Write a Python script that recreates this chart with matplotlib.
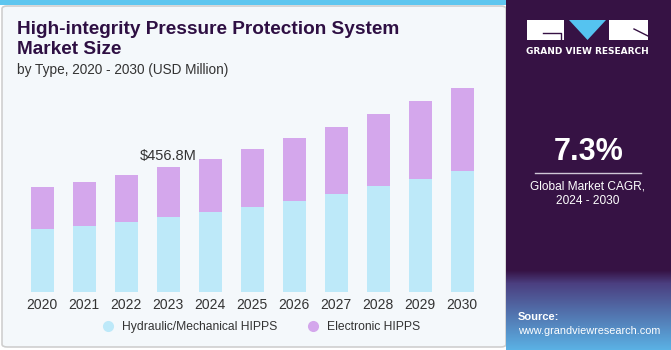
import numpy as np
import matplotlib
matplotlib.use("Agg")
import matplotlib.pyplot as plt
from matplotlib.patches import Rectangle, Polygon, FancyBboxPatch
from matplotlib.lines import Line2D

years = ["2020", "2021", "2022", "2023", "2024", "2025", "2026", "2027", "2028", "2029", "2030"]
hydraulic = [229, 241, 256, 274, 291, 311, 334, 358, 386, 413, 442]
electronic = [154, 162, 173, 182.8, 196, 212, 228, 246, 266, 284, 302]
series_names = ["Hydraulic/Mechanical HIPPS", "Electronic HIPPS"]
callout = "$456.8M"
callout_idx = 3

W, H = 671, 350
c_hyd = "#bde9f9"
c_ele = "#d4a7ec"
c_dark = "#361244"
c_title = "#2e0f43"

fig = plt.figure(figsize=(W / 100, H / 100), dpi=100)
fig.patch.set_facecolor("white")

def fx(px):
    return px / W

def fy(py):
    return 1 - py / H

# light left panel
bg = FancyBboxPatch((fx(2), fy(347)), fx(504), (345 - 4) / H, boxstyle="round,pad=0,rounding_size=0.008",
                    transform=fig.transFigure, facecolor="#f4f8fb", edgecolor="#cfcfcf", lw=1.2, zorder=-2)
fig.patches.append(bg)
fig.patches.append(Rectangle((0, fy(5)), fx(506), 5 / H, transform=fig.transFigure,
                             facecolor="#5ec6ef", edgecolor="none", zorder=-1))

# dark right panel with gradient bottom
pax = fig.add_axes([fx(506), 0, fx(W - 506), 1])
pax.set_zorder(-1)
pax.set_xlim(0, 1)
pax.set_ylim(H, 0)
pax.axis("off")
grad = np.zeros((H, 1, 3))
top = np.array(matplotlib.colors.to_rgb(c_dark))
mid = np.array(matplotlib.colors.to_rgb("#4b3f80"))
bot = np.array(matplotlib.colors.to_rgb("#5bb3e6"))
for r in range(H):
    if r < 270:
        grad[r, 0] = top
    elif r < 283:
        t = (r - 270) / 13
        grad[r, 0] = top * (1 - t) + mid * t
    else:
        t = (r - 283) / (H - 283)
        grad[r, 0] = mid * (1 - t) + bot * t
pax.imshow(grad, aspect="auto", extent=[0, 1, H, 0])

# logo
def frect(x0, y0, x1, y1, col):
    fig.patches.append(Rectangle((fx(x0), fy(y1)), fx(x1 - x0), (y1 - y0) / H,
                                 transform=fig.transFigure, facecolor=col, edgecolor="none", zorder=5))

frect(527, 20, 564, 40, "white")
fig.lines.append(Line2D([fx(543), fx(561), fx(561)], [fy(32.5), fy(32.5), fy(40)],
                        transform=fig.transFigure, color=c_dark, lw=1, zorder=6))
fig.patches.append(Polygon([[fx(569), fy(20)], [fx(606), fy(20)], [fx(587.5), fy(40)]], closed=True,
                           transform=fig.transFigure, facecolor="#55c3f0", edgecolor="none", zorder=5))
frect(609, 20, 648, 40, "white")
fig.lines.append(Line2D([fx(634), fx(648)], [fy(29), fy(36)],
                        transform=fig.transFigure, color=c_dark, lw=1, zorder=6))
fig.text(fx(587.5), fy(51), "GRAND VIEW RESEARCH", ha="center", va="center", color="white",
         fontsize=6.5, fontweight="bold", family="DejaVu Sans")

fig.text(fx(589), fy(152), "7.3%", ha="center", va="center", color="white",
         fontsize=22, fontweight="bold", family="Liberation Sans")
fig.lines.append(Line2D([fx(535), fx(641)], [fy(173), fy(173)], transform=fig.transFigure,
                        color="#cfc6d6", lw=1))
fig.text(fx(588), fy(186), "Global Market CAGR,", ha="center", va="center", color="white",
         fontsize=8.6, family="Liberation Sans")
fig.text(fx(588), fy(201), "2024 - 2030", ha="center", va="center", color="white",
         fontsize=8.6, family="Liberation Sans")
fig.text(fx(518), fy(317), "Source:", ha="left", va="center", color="white",
         fontsize=8, fontweight="bold", family="Liberation Sans")
fig.text(fx(518), fy(331), "www.grandviewresearch.com", ha="left", va="center", color="white",
         fontsize=7.8, family="Liberation Sans")

# titles
fig.text(fx(17), fy(29), "High-integrity Pressure Protection System", ha="left", va="center",
         color=c_title, fontsize=13.7, fontweight="bold", family="Liberation Sans")
fig.text(fx(17), fy(50), "Market Size", ha="left", va="center",
         color=c_title, fontsize=13.7, fontweight="bold", family="Liberation Sans")
fig.text(fx(17), fy(70), "by Type, 2020 - 2030 (USD Million)", ha="left", va="center",
         color="#333333", fontsize=9.8, family="Liberation Sans")

# chart
ax = fig.add_axes([fx(21.3), fy(292), fx(462), (292 - 73) / H])
ax.set_zorder(2)
ax.set_facecolor("none")
x = np.arange(len(years))
ax.bar(x, hydraulic, width=0.555, color=c_hyd, edgecolor="none")
ax.bar(x, electronic, bottom=hydraulic, width=0.555, color=c_ele, edgecolor="none")
tot = np.array(hydraulic) + np.array(electronic)
ax.text(x[callout_idx], tot[callout_idx] + 14, callout, ha="center", va="bottom",
        fontsize=10.5, color="#333333", family="Liberation Sans")
ax.set_xlim(-0.5, len(years) - 0.5)
ax.set_ylim(0, 800)
ax.set_xticks(x)
ax.set_xticklabels(years, fontsize=10, color="#333333", family="Liberation Sans")
ax.tick_params(axis="x", length=0, pad=4)
ax.set_yticks([])
for s in ax.spines.values():
    s.set_visible(False)

handles = [Line2D([], [], marker="o", ls="none", markersize=8, markerfacecolor=c, markeredgecolor="none")
           for c in (c_hyd, c_ele)]
leg = fig.legend(handles, series_names, loc="center", bbox_to_anchor=(fx(258), fy(327)), ncol=2,
                 frameon=False, handletextpad=0.1, columnspacing=2.0,
                 prop={"family": "Liberation Sans", "size": 8.7})
for t in leg.get_texts():
    t.set_color("#333333")

fig.savefig("out.png", dpi=100, facecolor=fig.get_facecolor())
